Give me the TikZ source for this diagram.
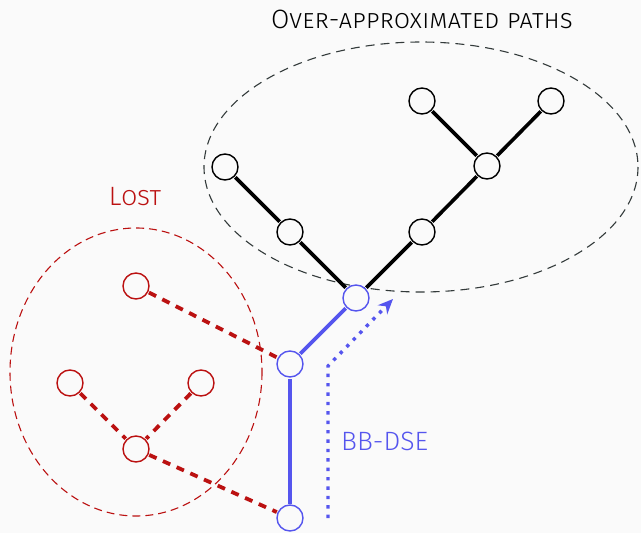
\documentclass[tikz,border=0pt]{standalone}
\usepackage{fontspec}
\setmainfont{Fira Sans Light}
\usetikzlibrary{arrows.meta}
\definecolor{bg}{HTML}{FAFAFA}
\definecolor{lostred}{HTML}{BB1111}
\definecolor{bbblue}{HTML}{5555EE}
\definecolor{elgray}{HTML}{333A3A}
\tikzset{
  pt/.style={circle, draw, line width=1.4pt, minimum size=26pt, inner sep=0pt, outer sep=1.5pt, fill=bg},
  blk/.style={pt, draw=black},
  red/.style={pt, draw=lostred},
  blu/.style={pt, draw=bbblue},
  bedge/.style={line width=3.6pt, black},
  uedge/.style={line width=3.6pt, bbblue},
  redge/.style={line width=3.8pt, lostred, dash pattern=on 8pt off 7pt},
  lbl/.style={font=\fontsize{26.5}{30}\selectfont, inner sep=0pt}
}
\begin{document}
\begin{tikzpicture}[x=1pt,y=-1pt]
\fill[bg] (0,0) rectangle (641,533);
\useasboundingbox (0,0) rectangle (641,533);
% ellipses
\draw[elgray, line width=1.1pt, dash pattern=on 9pt off 6pt] (421,167) ellipse [x radius=217, y radius=125];
\draw[lostred, line width=1.1pt, dash pattern=on 8pt off 5pt] (136,372) ellipse [x radius=126, y radius=144];
% nodes
\node[blk] (a1) at (225,167) {};
\node[blk] (a2) at (290,232) {};
\node[blk] (b1) at (422,101) {};
\node[blk] (b2) at (551,101) {};
\node[blk] (b3) at (487,166) {};
\node[blk] (b4) at (422,232) {};
\node[blu] (r) at (356,298) {};
\node[blu] (m) at (290,364) {};
\node[blu] (s) at (290,518) {};
\node[red] (l1) at (136,286) {};
\node[red] (l2) at (70,383) {};
\node[red] (l3) at (201,383) {};
\node[red] (l4) at (136,449) {};
% edges
\draw[bedge] (a1) -- (a2);
\draw[bedge] (a2) -- (r);
\draw[bedge] (r) -- (b4);
\draw[bedge] (b4) -- (b3);
\draw[bedge] (b3) -- (b1);
\draw[bedge] (b3) -- (b2);
\draw[uedge] (s) -- (m);
\draw[uedge] (m) -- (r);
\draw[redge] (l1) -- (m);
\draw[redge] (l4) -- (s);
\draw[redge] (l2) -- (l4);
\draw[redge] (l3) -- (l4);
% dotted arrow
\coordinate (d0) at (328,518);
\coordinate (d1) at (328,366);
\coordinate (d2) at (393,299);
\draw[bbblue, line width=3.4pt, dash pattern=on 3.4pt off 6pt, -{Stealth[length=15pt,width=13pt]}] (d0) -- (d1) -- (d2);
% labels
\node[lbl, bbblue, anchor=west] (t1) at (341,441) {BB-DSE};
\node[lbl, lostred] (t2) at (135,197) {\scshape Lost};
\node[lbl, black] (t3) at (422,19) {\scshape Over-approximated paths};
\end{tikzpicture}
\end{document}
